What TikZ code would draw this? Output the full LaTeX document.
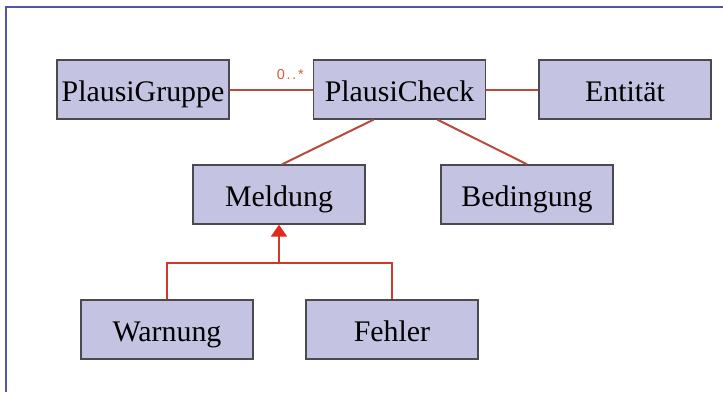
\documentclass[tikz,border=0pt]{standalone}
\usepackage{fontspec}
\setmainfont{Liberation Serif}
\newfontfamily\multfont[LetterSpace=12]{Liberation Sans}
\usetikzlibrary{arrows.meta}
\definecolor{boxfill}{HTML}{C4C4E2}
\definecolor{boxline}{HTML}{4A4A50}
\definecolor{assoc}{HTML}{B84A3C}
\definecolor{gen}{HTML}{CC3A2A}
\definecolor{arrowred}{HTML}{E02A1E}
\definecolor{frame}{HTML}{5454A8}
\definecolor{mult}{HTML}{D0603E}
\begin{document}
\begin{tikzpicture}[x=1bp,y=-1bp,
  cls/.style={draw=boxline,line width=1.3bp,fill=boxfill,minimum width=172bp,minimum height=59bp,inner sep=0pt,
    text height=24bp,text depth=0bp,font=\fontsize{30}{32}\selectfont},
  assocline/.style={draw=assoc,line width=2bp},
  genline/.style={draw=gen,line width=2bp},
  multlabel/.style={text=mult,font=\multfont\fontsize{14.5}{16}\selectfont,inner sep=0pt}]
\useasboundingbox (0,0) rectangle (723,392);
\fill[white] (0,0) rectangle (723,392);
\draw[frame,line width=2.2bp] (6,392) -- (6,7) -- (723,7);

\node[cls] (gruppe) at (143,89.5) {PlausiGruppe};
\node[cls] (check) at (399.5,89.5) {PlausiCheck};
\node[cls] (entitaet) at (625,89.5) {Entität};
\node[cls] (meldung) at (279,194.5) {Meldung};
\node[cls] (bedingung) at (527,194.5) {Bedingung};
\node[cls] (warnung) at (167,329.5) {Warnung};
\node[cls] (fehler) at (392,329.5) {Fehler};

\draw[assocline] (gruppe.east) -- (check.west)
  node[pos=1,multlabel,anchor=base east,xshift=-8bp,yshift=10.5bp] {0..*};
\draw[assocline] (check.east) -- (entitaet.west);
\draw[assocline] ([xshift=-26bp]check.south) -- ([xshift=3bp]meldung.north);
\draw[assocline] ([xshift=38bp]check.south) -- (bedingung.north);

\coordinate (j) at (279,263);
\draw[genline] (warnung.north) |- (j) -| (fehler.north);
\draw[genline,-{Triangle[width=16bp,length=12bp,color=arrowred]}] (j) -- (meldung.south);
\end{tikzpicture}
\end{document}
